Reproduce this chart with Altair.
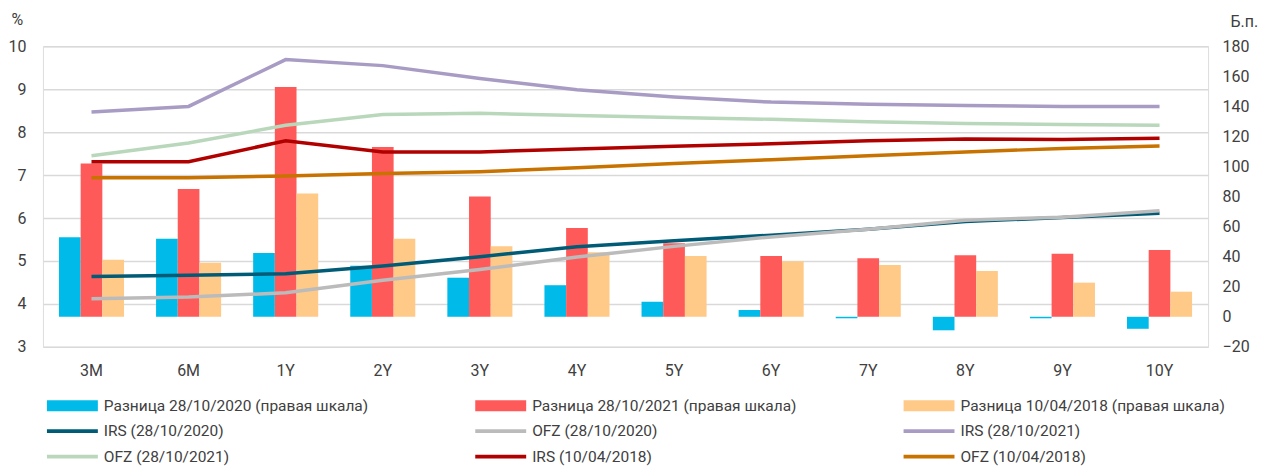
import altair as alt
import pandas as pd

FONT = "Roboto, sans-serif"
TXT = "#404040"

categories = ["3M", "6M", "1Y", "2Y", "3Y", "4Y", "5Y", "6Y", "7Y", "8Y", "9Y", "10Y"]

# bars (right axis, b.p.)
bar_names = ["Разница 28/10/2020 (правая шкала)", "Разница 28/10/2021 (правая шкала)",
             "Разница 10/04/2018 (правая шкала)"]
bar_colors = ["#00BBEA", "#FF5A5A", "#FFCA88"]
diff_2020 = [53, 52, 42.5, 34, 26, 21, 10, 4.5, -1, -9, -1, -8]
diff_2021 = [102, 85, 153, 113, 80, 59, 49, 40.5, 39, 41, 42, 44.5]
diff_2018 = [38, 36, 82, 52, 47, 43, 40.5, 37, 34.5, 30.5, 22.7, 16.7]

# lines (left axis, %)
line_names = ["IRS (28/10/2020)", "OFZ (28/10/2020)", "IRS (28/10/2021)",
              "OFZ (28/10/2021)", "IRS (10/04/2018)", "OFZ (10/04/2018)"]
line_colors = ["#005B76", "#BBBBBB", "#A89CC4", "#B9D7BB", "#B00000", "#C87200"]
irs_2020 = [4.64, 4.67, 4.70, 4.88, 5.10, 5.33, 5.47, 5.60, 5.74, 5.92, 6.01, 6.11]
ofz_2020 = [4.12, 4.16, 4.26, 4.55, 4.80, 5.09, 5.34, 5.56, 5.74, 5.95, 6.02, 6.17]
irs_2021 = [8.47, 8.60, 9.69, 9.55, 9.25, 8.99, 8.82, 8.70, 8.65, 8.62, 8.60, 8.60]
ofz_2021 = [7.45, 7.75, 8.16, 8.41, 8.44, 8.39, 8.34, 8.30, 8.24, 8.20, 8.18, 8.16]
irs_2018 = [7.31, 7.31, 7.80, 7.54, 7.54, 7.61, 7.67, 7.73, 7.80, 7.84, 7.83, 7.86]
ofz_2018 = [6.94, 6.94, 6.98, 7.04, 7.08, 7.17, 7.27, 7.36, 7.45, 7.54, 7.62, 7.68]

bar_series = [diff_2020, diff_2021, diff_2018]
line_series = [irs_2020, ofz_2020, irs_2021, ofz_2021, irs_2018, ofz_2018]

W, H = 1167, 301
AX_FS = 16
LEG_FS = 15.5

bar_df = pd.DataFrame([
    {"cat": c, "series": n, "value": v}
    for n, vals in zip(bar_names, bar_series)
    for c, v in zip(categories, vals)
])

x_scale = alt.Scale(domain=categories, paddingInner=0.33, paddingOuter=0.165)

bars = alt.Chart(bar_df).mark_bar().encode(
    x=alt.X("cat:N", sort=categories, scale=x_scale,
            axis=alt.Axis(title=None, labelAngle=0, domain=False, ticks=False,
                          labelPadding=16, labelFont=FONT, labelFontSize=AX_FS,
                          labelColor=TXT, grid=False)),
    xOffset=alt.XOffset("series:N", sort=bar_names,
                        scale=alt.Scale(domain=bar_names, paddingInner=0, paddingOuter=0)),
    y=alt.Y("value:Q",
            scale=alt.Scale(domain=[-20, 180], nice=False, zero=False),
            axis=alt.Axis(orient="right", values=list(range(-20, 181, 20)), grid=False,
                          domain=False, ticks=False, labelPadding=14, labelFont=FONT,
                          labelFontSize=AX_FS, labelColor=TXT, title="Б.п.", titleAngle=0,
                          titleX=22, titleY=-25, titleAlign="left", titleBaseline="middle",
                          titleFont=FONT, titleFontSize=AX_FS, titleFontWeight="normal",
                          titleColor=TXT)),
    color=alt.Color("series:N", scale=alt.Scale(domain=bar_names, range=bar_colors),
                    legend=None),
)

layers = [bars]
for i, (name, vals, col) in enumerate(zip(line_names, line_series, line_colors)):
    df = pd.DataFrame({"cat": categories, "value": vals})
    if i == 0:
        yax = alt.Axis(orient="left", values=list(range(3, 11)), grid=True,
                       gridColor="#D9D9D9", gridWidth=1.5, domain=False, ticks=False,
                       labelPadding=17, labelFont=FONT, labelFontSize=AX_FS, labelColor=TXT,
                       title="%", titleAngle=0, titleX=-32, titleY=-27, titleAlign="left",
                       titleBaseline="middle", titleFont=FONT, titleFontSize=AX_FS,
                       titleFontWeight="normal", titleColor=TXT)
    else:
        yax = None
    layers.append(
        alt.Chart(df).mark_line(color=col, strokeWidth=3.5).encode(
            x=alt.X("cat:N", sort=categories, scale=x_scale, axis=None),
            y=alt.Y("value:Q", scale=alt.Scale(domain=[3, 10], nice=False, zero=False),
                    axis=yax),
        )
    )

# custom legend, 3 columns x 3 rows
legend_labels = bar_names + line_names
legend_colors = bar_colors + line_colors
legend_kinds = ["bar"] * 3 + ["line"] * 6
leg_df = pd.DataFrame({
    "label": legend_labels,
    "kind": legend_kinds,
    "col": [i % 3 for i in range(len(legend_labels))],
    "row": [i // 3 for i in range(len(legend_labels))],
})
lx = alt.X("col:Q", scale=alt.Scale(domain=[0, 2], range=[4, 862]), axis=None)
ly = alt.Y("row:Q", scale=alt.Scale(domain=[0, 2], range=[360, 411]), axis=None)
bar_path = "M0,-0.22H2V0.22H0Z"
line_path = "M0,-0.075H2V0.075H0Z"
leg_sym = alt.Chart(leg_df).mark_point(filled=True, size=2601, opacity=1).encode(
    x=lx, y=ly,
    shape=alt.Shape("kind:N", scale=alt.Scale(domain=["bar", "line"],
                                              range=[bar_path, line_path]), legend=None),
    color=alt.Color("label:N", scale=alt.Scale(domain=legend_labels, range=legend_colors),
                    legend=None),
)
leg_txt = alt.Chart(leg_df).mark_text(align="left", baseline="middle", dx=57, font=FONT,
                                      fontSize=LEG_FS, color=TXT).encode(
    x=lx, y=ly, text="label:N")
layers += [leg_sym, leg_txt]

chart = alt.layer(*layers).resolve_scale(
    x="independent", y="independent", color="independent", shape="independent"
).resolve_axis(x="independent", y="independent").properties(
    width=W, height=H,
    autosize=alt.AutoSizeParams(type="none"),
    padding={"left": 35, "top": 38, "right": 52, "bottom": 120},
).configure_view(stroke=None).configure(background="white")

chart.save("out.html", embed_options={"renderer": "svg", "actions": False})
